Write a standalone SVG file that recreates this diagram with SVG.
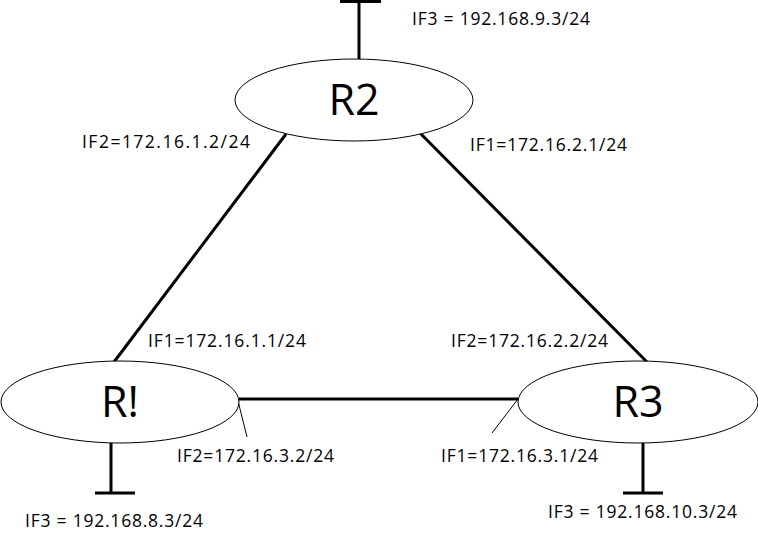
<svg xmlns="http://www.w3.org/2000/svg" width="758" height="533" viewBox="0 0 758 533">
<style>
.node{fill:#fff;stroke:#000;stroke-width:1}
.big{font-family:"Open Sans","Liberation Sans",sans-serif;font-size:43px;text-anchor:middle}
.lbl{font-family:"Open Sans","Liberation Sans",sans-serif;font-size:17.5px}
.link{stroke:#000;stroke-width:3;fill:none}
.thin{stroke:#000;stroke-width:1;fill:none}
</style>
<rect width="758" height="533" fill="#fff"/>
<g id="connectors">
<line class="link" x1="286" y1="134" x2="114" y2="362"/>
<line class="link" x1="420" y1="133" x2="648" y2="363"/>
<line class="link" x1="239" y1="399" x2="518" y2="399"/>
<line class="link" x1="359" y1="0" x2="359" y2="59"/>
<line class="link" x1="340" y1="1.5" x2="381" y2="1.5"/>
<line class="link" x1="111" y1="443" x2="111" y2="493"/>
<line class="link" x1="95" y1="493" x2="135" y2="493"/>
<line class="link" x1="643" y1="443" x2="643" y2="493"/>
<line class="link" x1="623" y1="493" x2="663" y2="493"/>
<line class="thin" x1="238" y1="401" x2="247" y2="437"/>
<line class="thin" x1="518" y1="399" x2="492" y2="433"/>
</g>
<g id="R2">
<ellipse class="node" cx="354" cy="100" rx="119" ry="41"/>
<text class="big" x="354" y="115">R2</text>
</g>
<g id="R1">
<ellipse class="node" cx="120" cy="402" rx="119" ry="41"/>
<text class="big" x="120" y="417">R!</text>
</g>
<g id="R3">
<ellipse class="node" cx="638" cy="402" rx="120" ry="41"/>
<text class="big" x="638" y="417">R3</text>
</g>
<g id="labels">
<text class="lbl" x="412" y="25" textLength="178">IF3 = 192.168.9.3/24</text>
<text class="lbl" x="82" y="148" textLength="168">IF2=172.16.1.2/24</text>
<text class="lbl" x="470" y="151" textLength="157">IF1=172.16.2.1/24</text>
<text class="lbl" x="148" y="347" textLength="158">IF1=172.16.1.1/24</text>
<text class="lbl" x="451" y="347" textLength="157">IF2=172.16.2.2/24</text>
<text class="lbl" x="177" y="462" textLength="157">IF2=172.16.3.2/24</text>
<text class="lbl" x="441" y="462" textLength="157">IF1=172.16.3.1/24</text>
<text class="lbl" x="25" y="527" textLength="178">IF3 = 192.168.8.3/24</text>
<text class="lbl" x="548" y="518" textLength="189">IF3 = 192.168.10.3/24</text>
</g>
</svg>
